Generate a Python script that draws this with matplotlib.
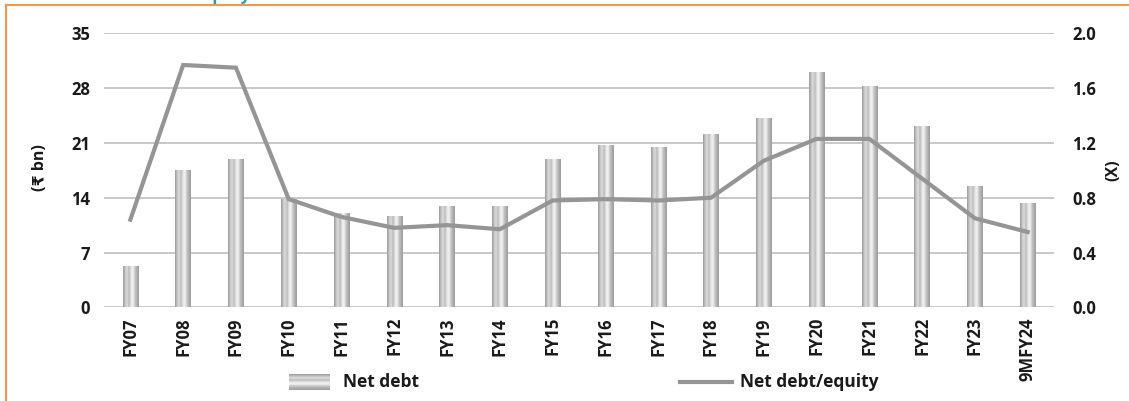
import numpy as np
import matplotlib
matplotlib.use("Agg")
import matplotlib.pyplot as plt
from matplotlib.colors import LinearSegmentedColormap
from matplotlib.lines import Line2D

plt.rcParams['font.family'] = ['Open Sans', 'DejaVu Sans']

# Data
years = ['FY07', 'FY08', 'FY09', 'FY10', 'FY11', 'FY12', 'FY13', 'FY14', 'FY15',
         'FY16', 'FY17', 'FY18', 'FY19', 'FY20', 'FY21', 'FY22', 'FY23', '9MFY24']
net_debt = [5.2, 17.4, 18.9, 13.7, 11.9, 11.6, 12.9, 12.8, 18.8,
            20.6, 20.4, 22.1, 24.1, 30.0, 28.2, 23.1, 15.4, 13.2]
debt_equity = [0.64, 1.77, 1.75, 0.79, 0.66, 0.58, 0.60, 0.57, 0.78,
               0.79, 0.78, 0.80, 1.07, 1.23, 1.23, 0.94, 0.65, 0.55]
left_ticks = [0, 7, 14, 21, 28, 35]
right_ticks = [0.0, 0.4, 0.8, 1.2, 1.6, 2.0]

grid_col = '#bfbfbf'
line_col = '#959595'
txt_col = '#1a1a1a'

# metallic stripe look of the bars
stripe = LinearSegmentedColormap.from_list(
    'stripe', ['#999999', '#c4c4c4', '#dedede', '#bababa', '#e6e6e6',
               '#f3f3f3', '#c8c8c8', '#b0b0b0', '#9c9c9c'])
grad = np.linspace(0, 1, 64).reshape(1, -1)

fig = plt.figure(figsize=(11.29, 4.01), dpi=100)
ax = fig.add_axes([0.0921, 0.2337, 0.8415, 0.6828])
ax2 = ax.twinx()

x = np.arange(len(years))
w = 0.29
for xi, v in zip(x, net_debt):
    ax.imshow(grad, cmap=stripe, aspect='auto', interpolation='bilinear',
              extent=[xi - w / 2, xi + w / 2, 0, v], zorder=2)

ax2.plot(x, debt_equity, color=line_col, lw=3, solid_joinstyle='miter', zorder=3)

ax.set_xlim(-0.5, len(years) - 0.5)
ax.set_ylim(0, 35)
ax2.set_ylim(0, 2.0)
ax.set_yticks(left_ticks)
ax.set_yticklabels([str(t) for t in left_ticks])
ax2.set_yticks(right_ticks)
ax2.set_yticklabels([f"{t:.1f}" for t in right_ticks])
ax.set_xticks(x)
ax.set_xticklabels(years, rotation=90)

ax.grid(axis='y', color=grid_col, lw=1.2, zorder=0)
ax.set_axisbelow(True)
for a in (ax, ax2):
    for s in a.spines.values():
        s.set_visible(False)
    a.tick_params(length=0, labelsize=12, labelcolor=txt_col)
    for lab in a.get_xticklabels() + a.get_yticklabels():
        lab.set_fontweight('bold')
ax.tick_params(axis='y', pad=10)
ax.tick_params(axis='x', pad=7)
ax2.tick_params(axis='y', pad=13)

fig.text(40 / 1129, 1 - 168 / 401, '(₹ bn)', rotation=90, ha='center', va='center',
         fontsize=11.5, fontweight='bold', color=txt_col)
fig.text(1113 / 1129, 1 - 170 / 401, '(X)', rotation=90, ha='center', va='center',
         fontsize=11.5, fontweight='bold', color=txt_col)

# legend drawn by hand
lax = fig.add_axes([289 / 1129, 1 - 390 / 401, 41 / 1129, 16 / 401])
lax.imshow(grad.T, cmap=stripe, aspect='auto', interpolation='bilinear')
lax.axis('off')
fig.text(343 / 1129, 1 - 382 / 401, 'Net debt', ha='left', va='center',
         fontsize=12.5, fontweight='bold', color=txt_col)
fig.add_artist(Line2D([680 / 1129, 732 / 1129], [1 - 382 / 401] * 2,
                      color=line_col, lw=3, transform=fig.transFigure))
fig.text(740 / 1129, 1 - 382 / 401, 'Net debt/equity', ha='left', va='center',
         fontsize=12.5, fontweight='bold', color=txt_col)

# orange frame and clipped title
fig.add_artist(Line2D([6 / 1129, 6 / 1129], [0, 1 - 4.5 / 401], color='#f79646',
                      lw=1.5, transform=fig.transFigure))
fig.add_artist(Line2D([6 / 1129, 1], [1 - 4.5 / 401] * 2, color='#f79646',
                      lw=1.5, transform=fig.transFigure))
fig.text(117 / 1129, 1 + 0.5 / 401, 'Net debt/equity', ha='left', va='baseline',
         fontsize=12, fontweight='bold', color='#1ba3b8')

fig.savefig('out.png', dpi=100)
